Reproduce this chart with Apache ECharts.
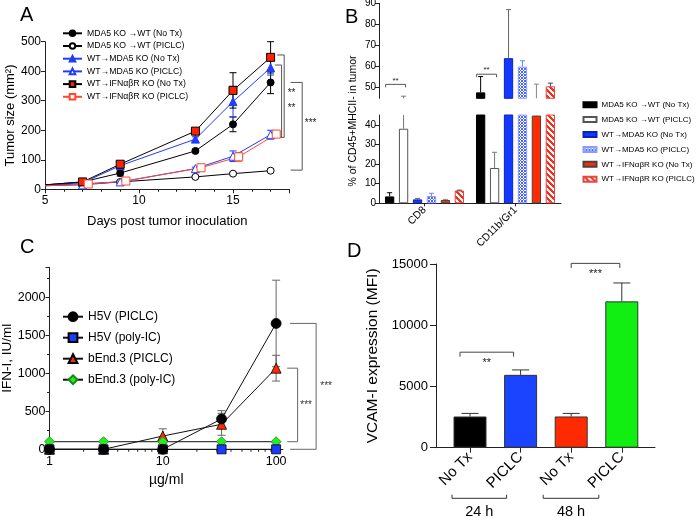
<!DOCTYPE html>
<html><head><meta charset="utf-8">
<script src="https://cdn.jsdelivr.net/npm/echarts@6/dist/echarts.min.js"></script>
<style>html,body{margin:0;padding:0;background:#fff}#c{width:697px;height:518px}</style>
</head><body><div id="c"></div>
<script>
// ================= DATA =================
// Panel A : tumor growth
const daysA = [5, 7, 9, 13, 15, 17];
const daysA_shift = [5, 7.3, 9.3, 13.3, 15.3, 17.3];
const namesA = ['MDA5 KO →WT (No Tx)', 'MDA5 KO →WT (PICLC)', 'WT→MDA5 KO (No Tx)', 'WT→MDA5 KO (PICLC)', 'WT→IFNαβR KO (No Tx)', 'WT→IFNαβR KO (PICLC)'];
const a_mda5wt_notx  = [15, 25, 55, 130, 220, 362];
const a_mda5wt_piclc = [14, 18, 25, 42, 53, 63];
const a_wtmda5_notx  = [15, 22, 80, 170, 297, 412];
const a_wtmda5_piclc = [12, 15, 25, 70, 112, 185];
const a_wtifn_notx   = [15, 25, 85, 197, 335, 447];
const a_wtifn_piclc  = [12, 18, 28, 73, 110, 187];
const errA_mda5wt_notx  = [0, 4, 10, 5, 25, 38];
const errA_mda5wt_piclc = [0, 3, 4, 4, 4, 5];
const errA_wtmda5_notx  = [0, 4, 8, 8, 52, 25];
const errA_wtmda5_piclc = [0, 3, 4, 5, 18, 15];
const errA_wtifn_notx   = [0, 4, 8, 8, 60, 53];
const errA_wtifn_piclc  = [0, 3, 4, 5, 15, 10];
const sigA_top    = [455, 421, 362];
const sigA_bottom = [176, 176, 65];
const sigA_labelY = [325, 276, 224];
const sigA_text   = ['**', '**', '***'];

// Panel B : % of CD45+MHCII- in tumor (broken axis)
const catsB = ['CD8', 'CD11b/Gr1'];
const namesB = namesA;
const b_mda5wt_notx  = [3.5, 47.8];
const b_mda5wt_piclc = [38, 18];
const b_wtmda5_notx  = [2, 64];
const b_wtmda5_piclc = [3.7, 60];
const b_wtifn_notx   = [1.7, 44.7];
const b_wtifn_piclc  = [6.5, 50.7];
const errB_mda5wt_notx  = [5.4, 55.3];
const errB_mda5wt_piclc = [46, 26];
const errB_wtmda5_notx  = [2.5, 87];
const errB_wtmda5_piclc = [5.1, 62.8];
const errB_wtifn_notx   = [2, 51.7];
const errB_wtifn_piclc  = [6.7, 52.2];
const sigB_level = [51.6, 56.4];
const sigB_text  = ['**', '**'];

// Panel C : IFN-I
const xC = [1, 3, 10, 33, 100];
const namesC = ['H5V (PICLC)', 'H5V (poly-IC)', 'bEnd.3 (PICLC)', 'bEnd.3 (poly-IC)'];
const c_h5v_piclc   = [0, 0, 0, 400, 1660];
const c_h5v_polyic  = [0, 0, 0, 0, 0];
const c_bend_piclc  = [0, 0, 175, 330, 1070];
const c_bend_polyic = [100, 100, 100, 100, 100];
const errC_h5v_piclc  = [0, 0, 0, 110, 570];
const errC_bend_piclc = [0, 0, 95, 145, 170];
const minorTicksC = [2, 3, 4, 5, 6, 7, 8, 9, 20, 30, 40, 50, 60, 70, 80, 90];
const sigC_top    = [1070, 1660];
const sigC_bottom = [100, 0];
const sigC_text   = ['***', '***'];

// Panel D : VCAM-I
const catsD = ['No Tx', 'PICLC', 'No Tx', 'PICLC'];
const d_vcam     = [2550, 5950, 2550, 11950];
const d_vcam_err = [250, 400, 250, 1500];
const groupsD = ['24 h', '48 h'];
const sigD_pairs = [[0, 1], [2, 3]];
const sigD_level = [7800, 15050];
const sigD_text  = ['**', '***'];

// ================= STYLE =================
const FONT = '"Liberation Sans", Arial, Helvetica, sans-serif';
const AX = '#222';
const BLUE = '#1f3cff', RED = '#ff2200';

function patternBlue() {
  const c = document.createElement('canvas'); c.width = 3; c.height = 3;
  const g = c.getContext('2d'); g.fillStyle = '#fff'; g.fillRect(0, 0, 3, 3);
  g.fillStyle = '#4a64ff';
  [[0,0],[1,1],[2,2],[2,0],[0,2]].forEach(p => g.fillRect(p[0], p[1], 1, 1));
  return {image: c, repeat: 'repeat'};
}
function patternRed() {
  const n = 6; const c = document.createElement('canvas'); c.width = n; c.height = n;
  const g = c.getContext('2d'); g.fillStyle = '#fff'; g.fillRect(0, 0, n, n);
  g.fillStyle = '#ff2a1a';
  for (let x = 0; x < n; x++) for (let y = 0; y < n; y++) if (((x - y) % n + n) % n < 3) g.fillRect(x, y, 1, 1);
  return {image: c, repeat: 'repeat'};
}

const A_STYLE = [
  {line: '#000', sym: 'circle', size: 7, fill: '#000', border: '#000', err: '#000'},
  {line: '#000', sym: 'circle', size: 7, fill: '#fff', border: '#000', err: '#000'},
  {line: BLUE, sym: 'triangle', size: 8, fill: BLUE, border: BLUE, err: BLUE},
  {line: BLUE, sym: 'triangle', size: 8, fill: '#fff', border: BLUE, err: BLUE},
  {line: '#000', sym: 'rect', size: 8, fill: RED, border: '#000', err: '#000'},
  {line: '#ff4a30', sym: 'rect', size: 8, fill: '#fff', border: '#ff4a30', err: '#ff4a30'}
];
const B_STYLE = [
  {fill: '#000', border: '#000', err: '#000'},
  {fill: '#fff', border: '#555', err: '#777'},
  {fill: '#1238ff', border: '#0a22b8', err: '#666'},
  {fill: patternBlue(), border: '#8a9cff', err: '#6d83ff'},
  {fill: '#ff2a00', border: '#444', err: '#888'},
  {fill: patternRed(), border: '#e04a40', err: '#444'}
];
const C_STYLE = [
  {sym: 'circle', size: 10, fill: '#000', border: '#000', z: 6},
  {sym: 'rect', size: 9, fill: '#1a3cff', border: '#000', z: 5},
  {sym: 'triangle', size: 10, fill: '#ff2a00', border: '#000', z: 3},
  {sym: 'diamond', size: 10, fill: '#22ee22', border: '#138a13', z: 4}
];
const D_COLORS = ['#000', '#1a44ff', '#ff2a00', '#11ee11'];
const B_BARW = 9.3, B_STRIDE = 13.95;

// ================= HELPERS =================
function ln(x1, y1, x2, y2, color, w) {
  return {type: 'line', shape: {x1, y1, x2, y2}, style: {stroke: color, lineWidth: w || 1}};
}
function txt(x, y, text, size, color) {
  return {type: 'text', x, y, style: {text, fill: color || '#333', fontSize: size, fontFamily: FONT, align: 'center', verticalAlign: 'middle'}};
}
function errRender(color, capHalf) {
  return function (params, api) {
    const x = api.value(0), lo = api.value(1), hi = api.value(2);
    const a = api.coord([x, hi]), b = api.coord([x, lo]);
    return {type: 'group', children: [
      ln(a[0], a[1], b[0], b[1], color),
      ln(a[0] - capHalf, a[1], a[0] + capHalf, a[1], color),
      ln(b[0] - capHalf, b[1], b[0] + capHalf, b[1], color)
    ]};
  };
}
const plain = v => String(v);

// ================= BUILD =================
const series = [];
const valsA = [a_mda5wt_notx, a_mda5wt_piclc, a_wtmda5_notx, a_wtmda5_piclc, a_wtifn_notx, a_wtifn_piclc];
const errsA = [errA_mda5wt_notx, errA_mda5wt_piclc, errA_wtmda5_notx, errA_wtmda5_piclc, errA_wtifn_notx, errA_wtifn_piclc];
const xsA = [daysA, daysA, daysA, daysA, daysA, daysA_shift];
valsA.forEach((vals, i) => {
  const st = A_STYLE[i];
  series.push({
    type: 'custom', xAxisIndex: 0, yAxisIndex: 0, z: 2, silent: true,
    renderItem: errRender(st.err, 3.5), encode: {x: 0, y: [1, 2]},
    data: xsA[i].map((d, j) => [d, vals[j] - errsA[i][j], vals[j] + errsA[i][j]]).filter((r, j) => errsA[i][j] > 0)
  });
});
valsA.forEach((vals, i) => {
  const st = A_STYLE[i];
  series.push({
    type: 'line', name: namesA[i], xAxisIndex: 0, yAxisIndex: 0, z: 3,
    symbol: st.sym, symbolSize: st.size,
    lineStyle: {color: st.line, width: 1},
    itemStyle: {color: st.fill, borderColor: st.border, borderWidth: 1},
    data: xsA[i].map((d, j) => j === 0 ? {value: [d, vals[j]], symbol: 'none'} : [d, vals[j]])
  });
});
// significance brackets A (anchored at day 17)
const SIG_A_OFF = [{t: 6.6, v: 13.6, b: 2.5, tx: 21}, {t: 4.3, v: 11, b: 2.5, tx: 21}, {t: 20, v: 31.6, b: 20, tx: 40}];
series.push({
  type: 'custom', xAxisIndex: 0, yAxisIndex: 0, silent: true, clip: false,
  encode: {x: 0, y: 1},
  data: sigA_top.map((t, i) => [17, t, sigA_bottom[i], sigA_labelY[i], i]),
  renderItem: function (params, api) {
    const i = api.value(4), o = SIG_A_OFF[i];
    const p1 = api.coord([api.value(0), api.value(1)]), p2 = api.coord([api.value(0), api.value(2)]);
    const pl = api.coord([api.value(0), api.value(3)]);
    const x0 = p1[0];
    return {type: 'group', children: [
      {type: 'polyline', shape: {points: [[x0 + o.t, p1[1]], [x0 + o.v, p1[1]], [x0 + o.v, p2[1]], [x0 + o.b, p2[1]]]}, style: {stroke: '#555', fill: null, lineWidth: 1}},
      txt(x0 + o.tx, pl[1], sigA_text[i], 10, '#222')
    ]};
  }
});

// Panel B
const valsB = [b_mda5wt_notx, b_mda5wt_piclc, b_wtmda5_notx, b_wtmda5_piclc, b_wtifn_notx, b_wtifn_piclc];
const errsB = [errB_mda5wt_notx, errB_mda5wt_piclc, errB_wtmda5_notx, errB_wtmda5_piclc, errB_wtifn_notx, errB_wtifn_piclc];
[1, 2].forEach(ax => {
  valsB.forEach((vals, i) => {
    const st = B_STYLE[i];
    series.push({
      type: 'bar', name: (ax === 2 ? 'B' : 'Bu') + i, xAxisIndex: ax, yAxisIndex: ax,
      barWidth: B_BARW, barGap: '50%', clip: true,
      itemStyle: {color: st.fill, borderColor: st.border, borderWidth: 1},
      data: vals
    });
  });
  series.push({
    type: 'custom', xAxisIndex: ax, yAxisIndex: ax, silent: true, z: 3,
    encode: {x: 0, y: 3},
    data: valsB.flatMap((vals, i) => vals.map((v, c) => [c, i, v, errsB[i][c]])),
    renderItem: function (params, api) {
      const c = api.value(0), i = api.value(1), v = api.value(2), top = api.value(3);
      const cs = params.coordSys;
      const pb = api.coord([c, v]), pt = api.coord([c, top]);
      const x = pb[0] + (i - 2.5) * B_STRIDE;
      const col = B_STYLE[i].err;
      const y1 = Math.min(pb[1], cs.y + cs.height), y2 = Math.max(pt[1], cs.y);
      const ch = [];
      if (top > v && y2 < y1) ch.push(ln(x, y1, x, y2, col));
      if (top > v && pt[1] >= cs.y - 0.5 && pt[1] <= cs.y + cs.height + 0.5) ch.push(ln(x - 2.5, pt[1], x + 2.5, pt[1], col));
      return {type: 'group', children: ch};
    }
  });
});
series.push({
  type: 'custom', xAxisIndex: 1, yAxisIndex: 1, silent: true, clip: false,
  encode: {x: 0, y: 1},
  data: sigB_level.map((l, c) => [c, l]),
  renderItem: function (params, api) {
    const c = api.value(0), p = api.coord([c, api.value(1)]);
    const xa = p[0] - 2.5 * B_STRIDE - 4, xb = p[0] - 1.5 * B_STRIDE + 2;
    return {type: 'group', children: [
      {type: 'polyline', shape: {points: [[xa, p[1] + 3], [xa, p[1]], [xb, p[1]], [xb, p[1] + 3]]}, style: {stroke: '#555', fill: null, lineWidth: 1}},
      txt((xa + xb) / 2, p[1] - 4, sigB_text[c], 8, '#222')
    ]};
  }
});

// Panel C
const valsC = [c_h5v_piclc, c_h5v_polyic, c_bend_piclc, c_bend_polyic];
const errsC = [errC_h5v_piclc, null, errC_bend_piclc, null];
errsC.forEach((e, i) => {
  if (!e) return;
  series.push({
    type: 'custom', xAxisIndex: 3, yAxisIndex: 3, silent: true, z: 2,
    renderItem: errRender('#666', 4), encode: {x: 0, y: [1, 2]},
    data: xC.map((x, j) => [x, valsC[i][j] - e[j], valsC[i][j] + e[j]]).filter((r, j) => e[j] > 0)
  });
});
valsC.forEach((vals, i) => {
  const st = C_STYLE[i];
  series.push({
    type: 'line', name: namesC[i], xAxisIndex: 3, yAxisIndex: 3, z: st.z,
    symbol: st.sym, symbolSize: st.size,
    lineStyle: {color: '#111', width: 1},
    itemStyle: {color: st.fill, borderColor: st.border, borderWidth: 0.8},
    data: xC.map((x, j) => [x, vals[j]])
  });
});
series.push({
  type: 'custom', xAxisIndex: 3, yAxisIndex: 3, silent: true, clip: false,
  encode: {x: 0, y: 1},
  data: minorTicksC.map(x => [x, 0]),
  renderItem: function (params, api) {
    const p = api.coord([api.value(0), 0]);
    return ln(p[0], p[1], p[0], p[1] + 2.5, AX);
  }
});
const SIG_C_OFF = [{t: 11, v: 21.5, tx: 30}, {t: 14, v: 40, tx: 50}];
series.push({
  type: 'custom', xAxisIndex: 3, yAxisIndex: 3, silent: true, clip: false,
  encode: {x: 0, y: 1},
  data: sigC_top.map((t, i) => [100, t, sigC_bottom[i], i]),
  renderItem: function (params, api) {
    const i = api.value(3), o = SIG_C_OFF[i];
    const p1 = api.coord([api.value(0), api.value(1)]), p2 = api.coord([api.value(0), api.value(2)]);
    const x0 = p1[0];
    return {type: 'group', children: [
      {type: 'polyline', shape: {points: [[x0 + o.t, p1[1]], [x0 + o.v, p1[1]], [x0 + o.v, p2[1]], [x0 + o.t, p2[1]]]}, style: {stroke: '#666', fill: null, lineWidth: 1}},
      txt(x0 + o.tx, (p1[1] + p2[1]) / 2, sigC_text[i], 10, '#333')
    ]};
  }
});

// Panel D
series.push({
  type: 'bar', xAxisIndex: 5, yAxisIndex: 5, barWidth: 33, z: 2,
  data: d_vcam.map((v, i) => ({value: v, itemStyle: {color: D_COLORS[i], borderColor: '#333', borderWidth: 1}}))
});
series.push({
  type: 'custom', xAxisIndex: 5, yAxisIndex: 5, silent: true, z: 1,
  encode: {x: 0, y: [1, 2]},
  data: d_vcam.map((v, i) => [i, v, v + d_vcam_err[i]]),
  renderItem: function (params, api) {
    const a = api.coord([api.value(0), api.value(2)]), b = api.coord([api.value(0), api.value(1)]);
    return {type: 'group', children: [ln(a[0], a[1], b[0], b[1], '#333'), ln(a[0] - 8.5, a[1], a[0] + 8.5, a[1], '#333')]};
  }
});
const SIG_D_OFF = [{a: -10, b: -7}, {a: 0, b: -2}];
series.push({
  type: 'custom', xAxisIndex: 5, yAxisIndex: 5, silent: true, clip: false,
  encode: {x: 0, y: 2},
  data: sigD_pairs.map((p, i) => [p[0], p[1], sigD_level[i], i]),
  renderItem: function (params, api) {
    const i = api.value(3), o = SIG_D_OFF[i];
    const pa = api.coord([api.value(0), api.value(2)]), pb = api.coord([api.value(1), api.value(2)]);
    const xa = pa[0] + o.a, xb = pb[0] + o.b, y = pa[1];
    return {type: 'group', children: [
      {type: 'polyline', shape: {points: [[xa, y + 4.5], [xa, y], [xb, y], [xb, y + 4.5]]}, style: {stroke: '#444', fill: null, lineWidth: 1}},
      txt((xa + xb) / 2, y + 11, sigD_text[i], 11, '#222')
    ]};
  }
});
const GRP_D_OFF = [{a: -18, b: -14}, {a: -28, b: -23}];
series.push({
  type: 'custom', xAxisIndex: 5, yAxisIndex: 5, silent: true, clip: false,
  encode: {x: 0},
  data: groupsD.map((g, i) => [2 * i, 2 * i + 1, i]),
  renderItem: function (params, api) {
    const i = api.value(2), o = GRP_D_OFF[i], cs = params.coordSys;
    const pa = api.coord([api.value(0), 0]), pb = api.coord([api.value(1), 0]);
    const xa = pa[0] + o.a, xb = pb[0] + o.b, y = cs.y + cs.height + 50.6;
    return {type: 'group', children: [
      {type: 'polyline', shape: {points: [[xa, y - 3.5], [xa, y], [xb, y], [xb, y - 3.5]]}, style: {stroke: '#333', fill: null, lineWidth: 1}},
      txt((xa + xb) / 2, y + 13.5, groupsD[i], 14.5, '#000')
    ]};
  }
});

// ================= AXES =================
const tickStyle = {lineStyle: {color: AX, width: 1}};
const lineStyleAx = {show: true, onZero: false, lineStyle: {color: AX, width: 1}};
const noSplit = {show: false};
const legendNameB = {};
namesB.forEach((n, i) => legendNameB['B' + i] = n);

const option = {
  animation: false,
  backgroundColor: '#fff',
  textStyle: {fontFamily: FONT, color: '#000'},
  grid: [
    {left: 45, top: 41.7, width: 244.4, height: 147.6, outerBoundsMode: 'none'},
    {left: 379, top: 3.3, width: 182, height: 95, outerBoundsMode: 'none'},
    {left: 379, top: 115, width: 182, height: 88.3, outerBoundsMode: 'none'},
    {left: 49.5, top: 267.3, width: 233.5, height: 182, outerBoundsMode: 'none'},
    {left: 436, top: 264, width: 219, height: 183.7, outerBoundsMode: 'none'},
    {left: 444.7, top: 264, width: 202.4, height: 183.7, outerBoundsMode: 'none'}
  ],
  xAxis: [
    {gridIndex: 0, type: 'value', min: 5, max: 18, interval: 5, splitLine: noSplit, axisLine: lineStyleAx,
      axisTick: Object.assign({show: true, length: 4}, tickStyle),
      minorTick: Object.assign({show: true, splitNumber: 5, length: 2.5}, tickStyle),
      axisLabel: {fontSize: 12, color: '#000', margin: 5, showMaxLabel: false, formatter: plain},
      name: 'Days post tumor inoculation', nameLocation: 'middle', nameGap: 26, nameTextStyle: {fontSize: 13, color: '#000'}},
    {gridIndex: 1, type: 'category', data: catsB, show: false},
    {gridIndex: 2, type: 'category', data: catsB, axisLine: lineStyleAx,
      axisTick: Object.assign({show: true, alignWithLabel: true, length: 3}, tickStyle),
      axisLabel: {rotate: 45, fontSize: 10.5, color: '#000', margin: 5}},
    {gridIndex: 3, type: 'log', logBase: 10, min: 1, max: 115, splitLine: noSplit, axisLine: lineStyleAx,
      axisTick: Object.assign({show: true, length: 4}, tickStyle),
      axisLabel: {fontSize: 12.5, color: '#000', margin: 6, showMaxLabel: false, formatter: plain},
      name: 'µg/ml', nameLocation: 'middle', nameGap: 24, nameTextStyle: {fontSize: 14, color: '#000'}},
    {gridIndex: 4, type: 'value', min: 0, max: 1, splitLine: noSplit, axisLine: lineStyleAx,
      axisTick: {show: false}, axisLabel: {show: false}},
    {gridIndex: 5, type: 'category', data: catsD, axisLine: {show: false},
      axisTick: Object.assign({show: true, alignWithLabel: true, length: 5}, tickStyle),
      axisLabel: {rotate: 45, fontSize: 15, color: '#000', margin: 7}}
  ],
  yAxis: [
    {gridIndex: 0, type: 'value', min: 0, max: 500, interval: 100, splitLine: noSplit, axisLine: lineStyleAx,
      axisTick: Object.assign({show: true, length: 4}, tickStyle),
      axisLabel: {fontSize: 12, color: '#000', margin: 4, formatter: plain},
      name: 'Tumor size (mm²)', nameLocation: 'middle', nameGap: 24, nameTextStyle: {fontSize: 13, color: '#000'}},
    {gridIndex: 1, type: 'value', min: 45, max: 90, splitLine: noSplit, axisLine: lineStyleAx,
      axisTick: Object.assign({show: true, length: 4}, tickStyle),
      axisLabel: {fontSize: 10, color: '#000', margin: 3, showMinLabel: false, formatter: plain}},
    {gridIndex: 2, type: 'value', min: 0, max: 45, interval: 10, splitLine: noSplit, axisLine: lineStyleAx,
      axisTick: Object.assign({show: true, length: 4}, tickStyle),
      axisLabel: {fontSize: 10, color: '#000', margin: 3, showMaxLabel: false, formatter: plain}},
    {gridIndex: 3, type: 'value', min: 0, max: 2400, interval: 500, splitLine: noSplit, axisLine: lineStyleAx,
      axisTick: Object.assign({show: true, length: 4}, tickStyle),
      minorTick: Object.assign({show: true, splitNumber: 2, length: 2.5}, tickStyle),
      axisLabel: {fontSize: 12.5, color: '#000', margin: 4, showMaxLabel: false, formatter: plain},
      name: 'IFN-I, IU/ml', nameLocation: 'middle', nameGap: 29, nameTextStyle: {fontSize: 13.5, color: '#000'}},
    {gridIndex: 4, type: 'value', min: 0, max: 15000, interval: 5000, splitLine: noSplit, axisLine: lineStyleAx,
      axisTick: Object.assign({show: true, length: 6}, tickStyle),
      axisLabel: {fontSize: 13, color: '#000', margin: 8, formatter: plain},
      name: 'VCAM-I expression (MFI)', nameLocation: 'middle', nameGap: 55, nameTextStyle: {fontSize: 15.5, color: '#000'}},
    {gridIndex: 5, type: 'value', min: 0, max: 15000, show: false}
  ],
  legend: [
    {left: 62, top: 28.3, padding: 0, orient: 'vertical', selectedMode: false, itemWidth: 19, itemHeight: 7, itemGap: 2.7,
      data: namesA, textStyle: {fontSize: 8.7, lineHeight: 10, color: '#000'}},
    {left: 582.5, top: 99.7, padding: 0, orient: 'vertical', selectedMode: false, icon: 'rect', itemWidth: 13, itemHeight: 5, itemGap: 4.9,
      data: Object.keys(legendNameB), formatter: n => legendNameB[n], textStyle: {fontSize: 8, lineHeight: 10, color: '#000'}},
    {left: 62, top: 309.7, padding: 0, orient: 'vertical', selectedMode: false, itemWidth: 20, itemHeight: 11, itemGap: 7,
      data: namesC, textStyle: {fontSize: 12, lineHeight: 14, color: '#000'}}
  ],
  graphic: [
    {type: 'text', left: 20, top: 5, style: {text: 'A', fontSize: 20, fontFamily: FONT, fill: '#000'}},
    {type: 'text', left: 345, top: 7, style: {text: 'B', fontSize: 20, fontFamily: FONT, fill: '#000'}},
    {type: 'text', left: 20, top: 237, style: {text: 'C', fontSize: 20, fontFamily: FONT, fill: '#000'}},
    {type: 'text', left: 347, top: 241, style: {text: 'D', fontSize: 20, fontFamily: FONT, fill: '#000'}},
    {type: 'text', x: 353, y: 121, rotation: Math.PI / 2,
      style: {text: '% of CD45+MHCII- in tumor', fontSize: 10.5, fontFamily: FONT, fill: '#000', align: 'center', verticalAlign: 'middle'}}
  ],
  series: series
};
const chart = echarts.init(document.getElementById('c'), null, {renderer: 'canvas'});
chart.setOption(option);
</script>
</body></html>
